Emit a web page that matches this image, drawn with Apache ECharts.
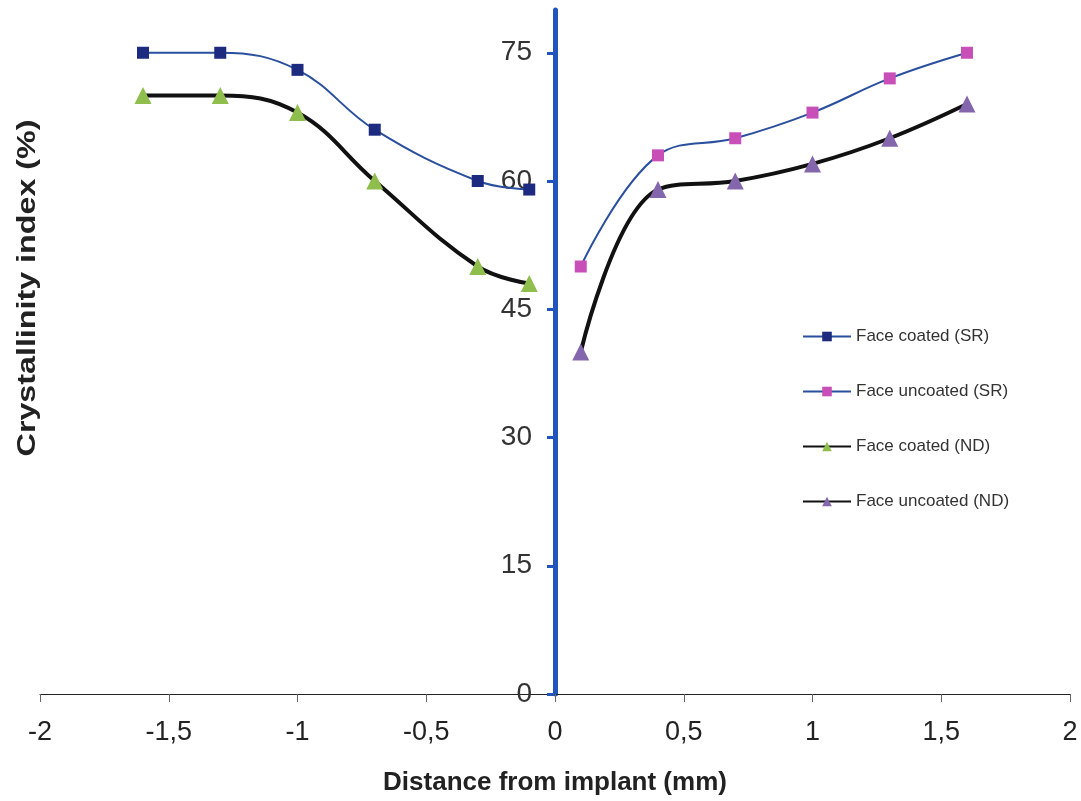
<!DOCTYPE html>
<html>
<head>
<meta charset="utf-8">
<script src="https://cdn.jsdelivr.net/npm/echarts@6/dist/echarts.min.js"></script>
<style>
  html, body { margin: 0; padding: 0; background: #fff; }
  #main { width: 1081px; height: 801px; }
</style>
</head>
<body>
<div id="main"></div>
<script>
// x positions (mm)
var xLeft = [-1.6, -1.3, -1.0, -0.7, -0.3, -0.1];
var xRight = [0.1, 0.4, 0.7, 1.0, 1.3, 1.6];
// crystallinity values (%)
var coatedSR = [75, 75, 73, 66, 60, 59];
var uncoatedSR = [50, 63, 65, 68, 72, 75];
var coatedND = [70, 70, 68, 60, 50, 48];
var uncoatedND = [40, 59, 60, 62, 65, 69];
var yTicks = [0, 15, 30, 45, 60, 75];

function pairs(xs, ys) {
  return xs.map(function (x, i) { return [x, ys[i]]; });
}

var font = 'Liberation Sans, Arial, sans-serif';
// grid is 1030px wide for -2..2, so x=0 sits 515px right of the left edge
var gridLeft = 40, gridRight = 11;

var myChart = echarts.init(document.getElementById('main'));
var option = {
  animation: false,
  backgroundColor: '#fff',
  textStyle: { fontFamily: font },
  grid: { left: gridLeft, right: gridRight, top: 10, bottom: 107, outerBoundsMode: 'none', containLabel: false },
  legend: {
    orient: 'vertical',
    left: 797,
    top: 323,
    itemGap: 38,
    itemWidth: 48,
    itemHeight: 12,
    textStyle: { fontSize: 17, color: '#333', fontFamily: font },
    data: ['Face coated (SR)', 'Face uncoated (SR)', 'Face coated (ND)', 'Face uncoated (ND)']
  },
  graphic: [{
    type: 'text',
    x: 28,
    y: 288,
    rotation: Math.PI / 2,
    scaleX: 1.24,
    style: {
      text: 'Crystallinity index (%)',
      font: 'bold 26px ' + font,
      fill: '#222',
      align: 'center',
      verticalAlign: 'middle'
    }
  }],
  xAxis: {
    type: 'value',
    min: -2,
    max: 2,
    interval: 0.5,
    name: 'Distance from implant (mm)',
    nameLocation: 'middle',
    nameGap: 76,
    nameTextStyle: { fontSize: 26, fontWeight: 'bold', color: '#222', fontFamily: font },
    axisLine: { onZero: false, lineStyle: { color: '#222', width: 1 } },
    axisTick: { length: 8, lineStyle: { color: '#666' } },
    axisLabel: {
      margin: 25,
      fontSize: 27,
      color: '#222',
      formatter: function (v) { return String(v).replace('.', ','); }
    },
    splitLine: { show: false }
  },
  yAxis: {
    type: 'value',
    position: 'left',
    offset: -(1081 - gridLeft - gridRight) / 2,
    min: 0,
    max: 80,
    interval: 15,
    axisLine: { show: true, onZero: false, lineStyle: { color: '#2255bb', width: 5 } },
    axisTick: { show: true, length: 8, customValues: yTicks, lineStyle: { color: '#2255bb', width: 3 } },
    axisLabel: {
      margin: 23,
      fontSize: 28,
      color: '#333',
      formatter: function (v) { return v % 15 === 0 ? String(v) : ''; }
    },
    splitLine: { show: false }
  },
  series: [
    {
      name: 'Face coated (SR)',
      type: 'line',
      smooth: 0.4,
      data: pairs(xLeft, coatedSR),
      symbol: 'rect',
      symbolSize: 12,
      itemStyle: { color: '#1c2a80' },
      lineStyle: { color: '#2a4f9e', width: 2 }
    },
    {
      name: 'Face uncoated (SR)',
      type: 'line',
      smooth: 0.4,
      data: pairs(xRight, uncoatedSR),
      symbol: 'rect',
      symbolSize: 12,
      itemStyle: { color: '#c94fb8' },
      lineStyle: { color: '#2a4f9e', width: 2 }
    },
    {
      name: 'Face coated (ND)',
      type: 'line',
      smooth: 0.4,
      data: pairs(xLeft, coatedND),
      symbol: 'triangle',
      symbolSize: 17,
      itemStyle: { color: '#8fbe4c' },
      lineStyle: { color: '#111', width: 4 }
    },
    {
      name: 'Face uncoated (ND)',
      type: 'line',
      smooth: 0.4,
      data: pairs(xRight, uncoatedND),
      symbol: 'triangle',
      symbolSize: 17,
      itemStyle: { color: '#8466ad' },
      lineStyle: { color: '#111', width: 4 }
    }
  ]
};
myChart.setOption(option);
</script>
</body>
</html>
